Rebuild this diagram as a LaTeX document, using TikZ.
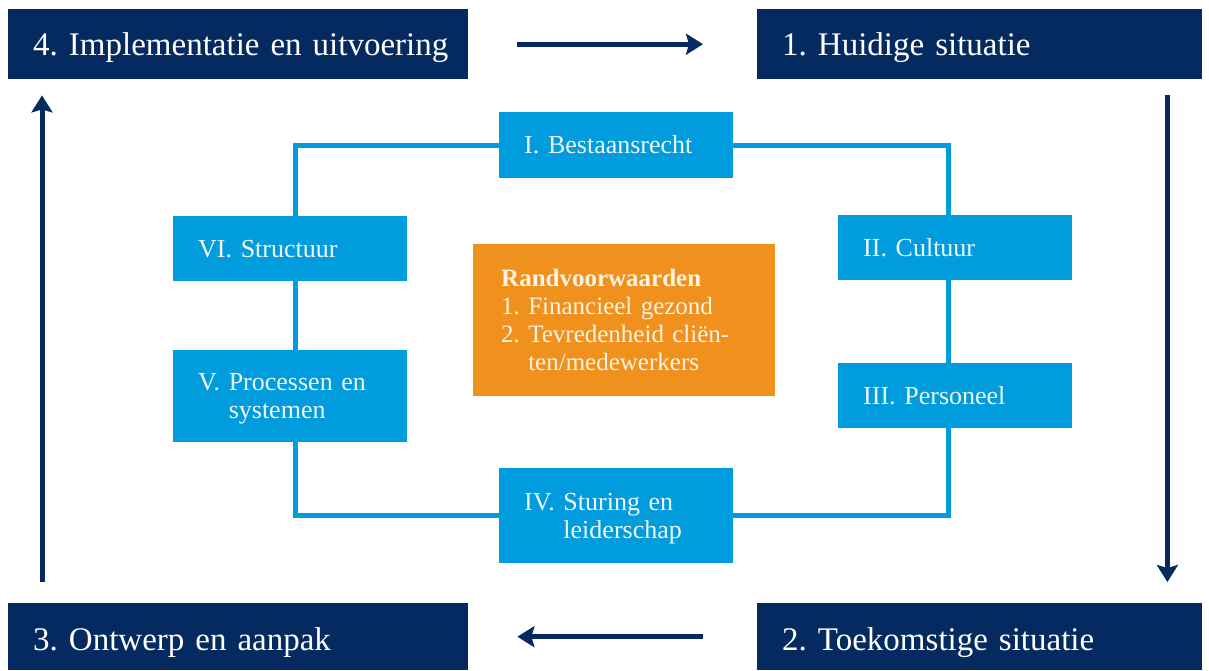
\documentclass[tikz,border=0pt]{standalone}
\usepackage{fontspec}
\setmainfont{Liberation Serif}
\usetikzlibrary{arrows.meta}
\definecolor{navy}{RGB}{4,42,96}
\definecolor{lblue}{RGB}{0,156,222}
\definecolor{orng}{RGB}{240,145,30}
\definecolor{boxtext}{RGB}{240,248,250}
\definecolor{orngtext}{RGB}{255,244,228}
\frenchspacing
\begin{document}
\begin{tikzpicture}[x=1pt,y=-1pt,
  navybox/.style={fill=navy, text=white, anchor=north west, inner xsep=25pt, inner ysep=0pt,
    minimum height=70pt, font=\fontsize{33}{38}\selectfont, text height=22pt, text depth=0pt, align=left},
  bluebox/.style={fill=lblue, text=boxtext, anchor=north west, inner xsep=25pt, inner ysep=0pt,
    minimum width=234pt, text width=184pt, font=\fontsize{26}{28}\selectfont, align=left,
    text height=17pt, text depth=0pt},
  orangebox/.style={fill=orng, text=orngtext, anchor=north west, inner xsep=28pt, inner ysep=0pt,
    minimum width=302pt, text width=246pt, minimum height=152pt, font=\fontsize{25}{28}\selectfont,
    align=left, text height=17pt, text depth=84pt},
  conn/.style={draw=lblue, line width=5pt},
  navyarrow/.style={draw=navy, line width=5pt, -{Stealth[length=17pt, width=21pt, inset=3pt]}}
]
\fill[white] (0,0) rectangle (1209,670);
\useasboundingbox (0,0) rectangle (1209,670);

% corner phase boxes
\node[navybox, minimum width=460pt, text width=410pt] (t4) at (8,9) {\mbox{4. Implementatie en uitvoering}};
\node[navybox, minimum width=445pt, text width=395pt] (t1) at (757,9) {\mbox{1. Huidige situatie}};
\node[navybox, minimum width=460pt, text width=410pt, minimum height=67pt, text height=27pt] (t3) at (8,603) {\mbox{3. Ontwerp en aanpak}};
\node[navybox, minimum width=445pt, text width=395pt, minimum height=67pt, text height=27pt] (t2) at (757,603) {\mbox{2. Toekomstige situatie}};

% blue boxes
\node[bluebox, minimum height=66pt] (b1) at (499,112) {I. Bestaansrecht};
\node[bluebox, minimum height=65pt] (b6) at (173,216) {VI. Structuur};
\node[bluebox, minimum height=65pt] (b2) at (838,215) {II. Cultuur};
\node[bluebox, minimum height=65pt] (b3) at (838,363) {III. Personeel};
\node[bluebox, minimum height=92pt, text depth=28pt] (b5) at (173,350) {V. Processen en\\\hphantom{V.\ }systemen};
\node[bluebox, minimum height=95pt, text depth=28pt] (b4) at (499,468) {IV. Sturing en\\\hphantom{IV.\ }leiderschap};

% orange box
\node[orangebox] (o) at (473,244) {\textbf{Randvoorwaarden}\\1. Financieel gezond\\2. Tevredenheid cliën-\\\hphantom{2.\ }ten/medewerkers};

% blue loop connectors
\draw[conn] (b1.west) -| ([xshift=5pt]b6.north);
\draw[conn] ([xshift=5pt]b6.south) -- ([xshift=5pt]b5.north);
\draw[conn] ([xshift=5pt]b5.south) |- (b4.west);
\draw[conn] (b4.east) -| ([xshift=-7pt]b3.south);
\draw[conn] ([xshift=-7pt]b3.north) -- ([xshift=-7pt]b2.south);
\draw[conn] ([xshift=-7pt]b2.north) |- (b1.east);

% navy cycle arrows
\draw[navyarrow, shorten <=49pt, shorten >=54pt] (t4.east) -- (t1.west);
\draw[navyarrow, shorten <=16pt, shorten >=21pt] ([xshift=-35pt]t1.south east) -- ([xshift=-35pt]t2.north east);
\draw[navyarrow, shorten <=54pt, shorten >=49pt] (t2.west) -- (t3.east);
\draw[navyarrow, shorten <=21pt, shorten >=16pt] ([xshift=34pt]t3.north west) -- ([xshift=34pt]t4.south west);
\end{tikzpicture}
\end{document}
